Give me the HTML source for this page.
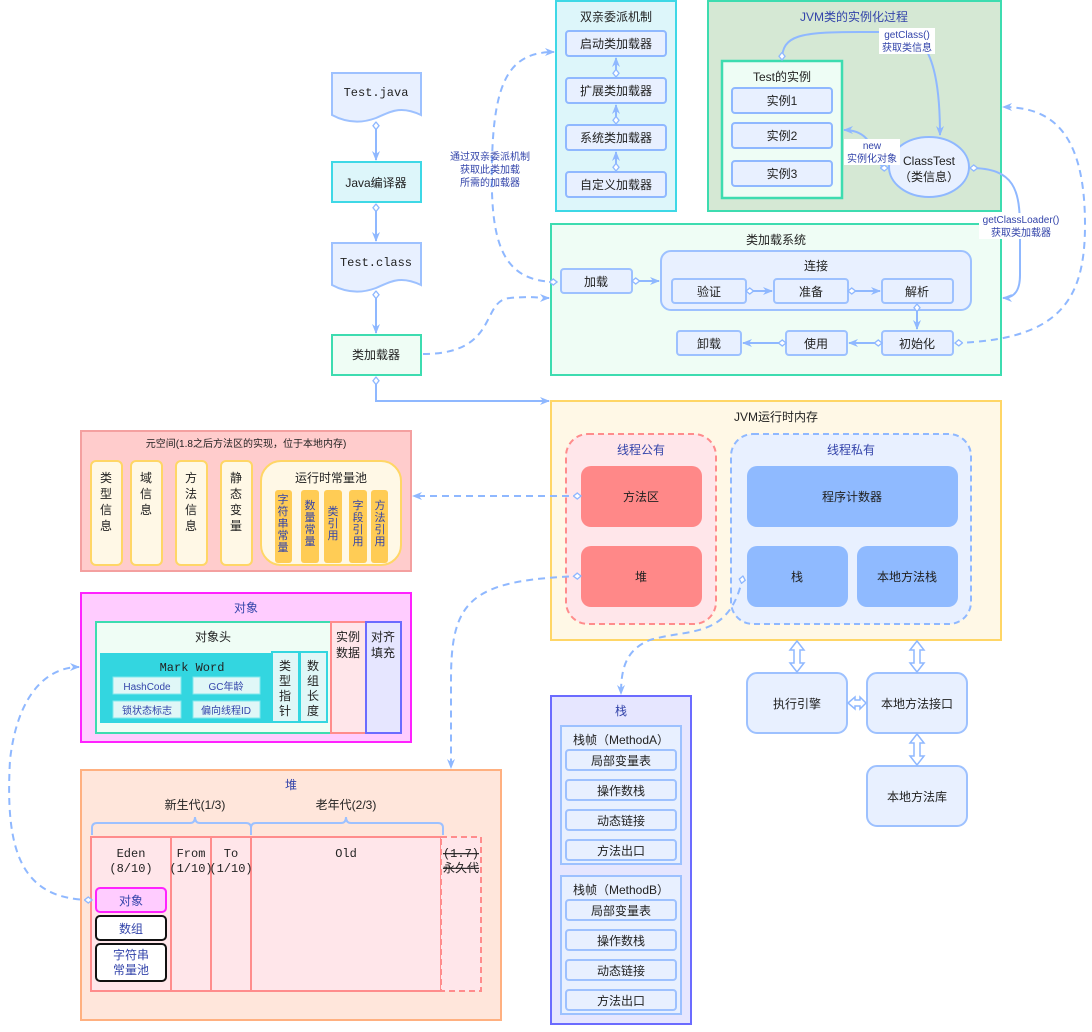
<!DOCTYPE html>
<html><head><meta charset="utf-8"><style>
html,body{margin:0;padding:0;background:#fff;}
svg text{font-family:"Liberation Sans","Noto Sans CJK SC",sans-serif;font-size:12px;fill:#222;}
.b{fill:#3344aa !important;}
.s{font-size:10px !important;}
.v{font-size:11px !important;}
.m{font-family:"Liberation Mono","Noto Sans CJK SC",monospace !important;}
</style></head><body>
<svg width="1092" height="1027" viewBox="0 0 1092 1027" xmlns="http://www.w3.org/2000/svg">
<defs>
<marker id="a" viewBox="0 0 10 10" refX="9" refY="5" markerWidth="10" markerHeight="10" markerUnits="userSpaceOnUse" orient="auto"><path d="M0,1 L10,5 L0,9 L3,5z" fill="#8fb8ff"/></marker>
<marker id="d" viewBox="0 0 12 12" refX="1" refY="6" markerWidth="9" markerHeight="9" markerUnits="userSpaceOnUse" orient="auto"><path d="M1,6 L6,2 L11,6 L6,10z" fill="#fff" stroke="#8fb8ff" stroke-width="1.8"/></marker>
</defs>
<g stroke-width="2">
<path d="M332,73 H421 V115 C400,105 390,112 376,118 C360,124 345,122 332,115Z" fill="#e8f0ff" stroke="#9dc1ff"/>
<rect x="332" y="162" width="89" height="40" fill="#ddf6fa" stroke="#3ed8e6"/>
<path d="M332,243 H421 V285 C400,275 390,282 376,288 C360,294 345,292 332,285Z" fill="#e8f0ff" stroke="#9dc1ff"/>
<rect x="332" y="335" width="89" height="40" fill="#effdf5" stroke="#3ddcb0"/>
<rect x="556" y="1" width="120" height="210" fill="#ddf6fa" stroke="#3ed8e6"/>
<g fill="#e8f0ff" stroke="#8fb8ff"><rect x="566" y="31" width="100" height="25" rx="3"/><rect x="566" y="78" width="100" height="25" rx="3"/><rect x="566" y="125" width="100" height="25" rx="3"/><rect x="566" y="172" width="100" height="25" rx="3"/></g>
<rect x="708" y="1" width="293" height="210" fill="#d5e8d4" stroke="#3ddcb0"/>
<rect x="722" y="61" width="120" height="137" fill="#eefdf5" stroke="#3ddcb0" stroke-width="2.5"/>
<g fill="#e8f0ff" stroke="#8fb8ff"><rect x="732" y="88" width="100" height="25" rx="3"/><rect x="732" y="123" width="100" height="25" rx="3"/><rect x="732" y="161" width="100" height="25" rx="3"/></g>
<ellipse cx="929" cy="167" rx="40" ry="30" fill="#e8f0ff" stroke="#8fb8ff"/>
<rect x="551" y="224" width="450" height="151" fill="#effdf5" stroke="#3ddcb0"/>
<g fill="#e8f0ff" stroke="#9dc1ff">
<rect x="561" y="269" width="71" height="24" rx="3"/>
<rect x="661" y="251" width="310" height="59" rx="10"/>
<rect x="672" y="279" width="74" height="24" rx="3"/><rect x="774" y="279" width="74" height="24" rx="3"/><rect x="882" y="279" width="71" height="24" rx="3"/>
<rect x="677" y="331" width="64" height="24" rx="3"/><rect x="786" y="331" width="61" height="24" rx="3"/><rect x="882" y="331" width="71" height="24" rx="3"/>
</g>
<rect x="551" y="401" width="450" height="239" fill="#fff8e6" stroke="#ffd666"/>
<rect x="566" y="434" width="150" height="190" rx="22" fill="#ffe6ea" stroke="#ff8c8c" stroke-dasharray="6 4"/>
<rect x="731" y="434" width="240" height="190" rx="22" fill="#e8f0ff" stroke="#8fb8ff" stroke-dasharray="6 4"/>
<g stroke="none"><rect x="581" y="466" width="121" height="61" rx="10" fill="#ff8888"/><rect x="581" y="546" width="121" height="61" rx="10" fill="#ff8888"/>
<rect x="747" y="466" width="211" height="61" rx="10" fill="#8fbaff"/><rect x="747" y="546" width="101" height="61" rx="10" fill="#8fbaff"/><rect x="857" y="546" width="101" height="61" rx="10" fill="#8fbaff"/></g>
<g fill="#e8f0ff" stroke="#9dc1ff"><rect x="747" y="673" width="100" height="60" rx="10"/><rect x="867" y="673" width="100" height="60" rx="10"/><rect x="867" y="766" width="100" height="60" rx="10"/></g>
<rect x="551" y="696" width="140" height="328" fill="#e6e6ff" stroke="#6b6bff"/>
<g fill="#e8f0ff" stroke="#9dc1ff"><rect x="561" y="726" width="120" height="138"/><rect x="561" y="876" width="120" height="138"/>
<rect x="566" y="750" width="110" height="20" rx="3"/><rect x="566" y="780" width="110" height="20" rx="3"/><rect x="566" y="810" width="110" height="20" rx="3"/><rect x="566" y="840" width="110" height="20" rx="3"/>
<rect x="566" y="900" width="110" height="20" rx="3"/><rect x="566" y="930" width="110" height="20" rx="3"/><rect x="566" y="960" width="110" height="20" rx="3"/><rect x="566" y="990" width="110" height="20" rx="3"/></g>
<rect x="81" y="431" width="330" height="140" fill="#ffcccc" stroke="#f4a0a0"/>
<g fill="#fff8e6" stroke="#ffd666"><rect x="91" y="461" width="31" height="104" rx="5"/><rect x="131" y="461" width="31" height="104" rx="5"/><rect x="176" y="461" width="31" height="104" rx="5"/><rect x="221" y="461" width="31" height="104" rx="5"/><rect x="261" y="461" width="140" height="104" rx="20"/></g>
<g fill="#ffcc55" stroke="none"><rect x="275" y="490" width="17" height="73" rx="3"/><rect x="301" y="490" width="18" height="73" rx="3"/><rect x="324" y="490" width="18" height="73" rx="3"/><rect x="349" y="490" width="18" height="73" rx="3"/><rect x="371" y="490" width="17" height="73" rx="3"/></g>
<rect x="81" y="593" width="330" height="149" fill="#ffccff" stroke="#ff22ff"/>
<rect x="96" y="622" width="235" height="111" fill="#effdf5" stroke="#3ddcb0"/>
<rect x="100" y="653" width="185" height="70" fill="#33d6e0" stroke="none"/>
<g fill="#e0f7f7" stroke="#80e8ee" stroke-width="1"><rect x="113" y="677" width="68" height="17"/><rect x="193" y="677" width="67" height="17"/><rect x="113" y="701" width="68" height="17"/><rect x="193" y="701" width="67" height="17"/></g>
<g fill="#e0f7f7" stroke="#33d6e0"><rect x="272" y="652" width="27" height="70"/><rect x="300" y="652" width="27" height="70"/></g>
<rect x="331" y="622" width="35" height="111" fill="#ffe6ea" stroke="#ff8c8c"/>
<rect x="366" y="622" width="35" height="111" fill="#e6e6ff" stroke="#6b6bff"/>
<rect x="81" y="770" width="420" height="250" fill="#ffe6db" stroke="#ffb080"/>
<g fill="#ffe6ea" stroke="#ff8c8c"><rect x="91" y="837" width="80" height="154"/><rect x="171" y="837" width="40" height="154"/><rect x="211" y="837" width="40" height="154"/><rect x="251" y="837" width="190" height="154"/></g>
<rect x="441" y="837" width="40" height="154" fill="#ffe6ea" stroke="#ff8c8c" stroke-dasharray="6 4"/>
<path d="M92,835 V828 Q92,823 97,823 H190 Q195,823 195,817 Q195,823 200,823 H246 Q251,823 251,828 V835 M251,828 Q251,823 256,823 H341 Q346,823 346,817 Q346,823 351,823 H438 Q443,823 443,828 V835" fill="none" stroke="#9dc1ff"/>
<rect x="96" y="888" width="70" height="24" rx="4" fill="#ffccff" stroke="#ff22ff"/>
<rect x="96" y="916" width="70" height="24" rx="4" fill="#fff" stroke="#111"/>
<rect x="96" y="944" width="70" height="37" rx="4" fill="#fff" stroke="#111"/>
</g>
<g fill="none" stroke="#8fb8ff" stroke-width="2">
<path d="M376,122 V160" marker-start="url(#d)" marker-end="url(#a)"/>
<path d="M376,204 V241" marker-start="url(#d)" marker-end="url(#a)"/>
<path d="M376,291 V333" marker-start="url(#d)" marker-end="url(#a)"/>
<path d="M376,377 V401 H549" marker-start="url(#d)" marker-end="url(#a)"/>
<path d="M616,77 V58" marker-start="url(#d)" marker-end="url(#a)"/>
<path d="M616,124 V105" marker-start="url(#d)" marker-end="url(#a)"/>
<path d="M616,171 V152" marker-start="url(#d)" marker-end="url(#a)"/>
<path d="M632,281 H659" marker-start="url(#d)" marker-end="url(#a)"/>
<path d="M746,291 H772" marker-start="url(#d)" marker-end="url(#a)"/>
<path d="M848,291 H880" marker-start="url(#d)" marker-end="url(#a)"/>
<path d="M917,304 V329" marker-start="url(#d)" marker-end="url(#a)"/>
<path d="M882,343 H849" marker-start="url(#d)" marker-end="url(#a)"/>
<path d="M786,343 H743" marker-start="url(#d)" marker-end="url(#a)"/>
<path d="M782,60 C782,35 800,32 860,32 H905 C935,40 940,90 940,135" marker-start="url(#d)" marker-end="url(#a)"/>
<path d="M888,168 C870,168 880,130 844,130" marker-start="url(#d)" marker-end="url(#a)"/>
<path d="M970,168 C1015,168 1020,190 1020,230 V275 C1020,290 1015,298 1003,298" marker-start="url(#d)" marker-end="url(#a)"/>
<g stroke-dasharray="7 5">
<path d="M557,282 C500,282 490,240 492,160 C494,80 510,52 554,52" marker-start="url(#d)" marker-end="url(#a)"/>
<path d="M423,354 C500,354 480,300 510,298 C530,296 540,298 549,298" marker-end="url(#a)"/>
<path d="M955,343 C1060,340 1085,300 1085,225 C1085,130 1050,107 1003,107" marker-start="url(#d)" marker-end="url(#a)"/>
<path d="M581,496 H413" marker-start="url(#d)" marker-end="url(#a)"/>
<path d="M581,576 C470,580 451,600 451,680 V768" marker-start="url(#d)" marker-end="url(#a)"/>
<path d="M743,576 C730,640 690,628 650,640 C625,650 621,670 621,694" marker-start="url(#d)" marker-end="url(#a)"/>
<path d="M92,900 C20,900 5,850 10,760 C18,690 50,667 79,667" marker-start="url(#d)" marker-end="url(#a)"/>
</g>
</g>
<g fill="#fff" stroke="#8fb8ff" stroke-width="1.5">
<path d="M797,641 L804,650 H800 V663 H804 L797,672 L790,663 H794 V650 H790Z"/>
<path d="M917,641 L924,650 H920 V663 H924 L917,672 L910,663 H914 V650 H910Z"/>
<path d="M917,734 L924,743 H920 V756 H924 L917,765 L910,756 H914 V743 H910Z"/>
<path d="M848,703 L855,697 V700 H860 V697 L866,703 L860,709 V706 H855 V709Z"/>
</g>
<g fill="#fff"><rect x="879" y="28" width="56" height="26"/><rect x="844" y="139" width="56" height="26"/><rect x="979" y="213" width="84" height="26"/></g>
<g text-anchor="middle">
<text x="376" y="96" class="m">Test.java</text>
<text x="376" y="187">Java编译器</text>
<text x="376" y="266" class="m">Test.class</text>
<text x="376" y="359">类加载器</text>
<text x="490" y="160" class="b s">通过双亲委派机制</text><text x="490" y="173" class="b s">获取此类加载</text><text x="490" y="186" class="b s">所需的加载器</text>
<text x="616" y="21">双亲委派机制</text>
<text x="616" y="48">启动类加载器</text><text x="616" y="95">扩展类加载器</text><text x="616" y="142">系统类加载器</text><text x="616" y="189">自定义加载器</text>
<text x="854" y="21" class="b">JVM类的实例化过程</text>
<text x="782" y="81">Test的实例</text>
<text x="782" y="105">实例1</text><text x="782" y="140">实例2</text><text x="782" y="178">实例3</text>
<text x="907" y="38" class="b s">getClass()</text><text x="907" y="51" class="b s">获取类信息</text>
<text x="872" y="149" class="b s">new</text><text x="872" y="162" class="b s">实例化对象</text>
<text x="929" y="165">ClassTest</text><text x="929" y="181">（类信息）</text>
<text x="1021" y="223" class="b s">getClassLoader()</text><text x="1021" y="236" class="b s">获取类加载器</text>
<text x="776" y="244">类加载系统</text>
<text x="596" y="286">加载</text><text x="816" y="270">连接</text>
<text x="709" y="296">验证</text><text x="811" y="296">准备</text><text x="917" y="296">解析</text>
<text x="709" y="348">卸载</text><text x="816" y="348">使用</text><text x="917" y="348">初始化</text>
<text x="776" y="421">JVM运行时内存</text>
<text x="641" y="454" class="b">线程公有</text><text x="851" y="454" class="b">线程私有</text>
<text x="641" y="501">方法区</text><text x="641" y="581">堆</text>
<text x="852" y="501">程序计数器</text><text x="797" y="581">栈</text><text x="907" y="581">本地方法栈</text>
<text x="797" y="708">执行引擎</text><text x="917" y="708">本地方法接口</text><text x="917" y="801">本地方法库</text>
<text x="621" y="715" class="b">栈</text>
<text x="621" y="744">栈帧（MethodA）</text>
<text x="621" y="765">局部变量表</text><text x="621" y="795">操作数栈</text><text x="621" y="825">动态链接</text><text x="621" y="855">方法出口</text>
<text x="621" y="894">栈帧（MethodB）</text>
<text x="621" y="915">局部变量表</text><text x="621" y="945">操作数栈</text><text x="621" y="975">动态链接</text><text x="621" y="1005">方法出口</text>
<text x="246" y="447" class="s">元空间(1.8之后方法区的实现，位于本地内存)</text>
<text x="331" y="482">运行时常量池</text>
<text x="246" y="612" class="b">对象</text>
<text x="213" y="641">对象头</text>
<text x="192" y="671" class="m">Mark Word</text>
<text x="147" y="690" class="b s">HashCode</text><text x="226" y="690" class="b s">GC年龄</text>
<text x="147" y="714" class="b s">锁状态标志</text><text x="226" y="714" class="b s">偏向线程ID</text>
<text x="348" y="641">实例</text><text x="348" y="657">数据</text>
<text x="383" y="641">对齐</text><text x="383" y="657">填充</text>
<text x="291" y="789" class="b">堆</text>
<text x="195" y="809">新生代(1/3)</text><text x="346" y="809">老年代(2/3)</text>
<text x="131" y="857" class="m">Eden</text><text x="131" y="872" class="m">(8/10)</text>
<text x="191" y="857" class="m">From</text><text x="191" y="872" class="m">(1/10)</text>
<text x="231" y="857" class="m">To</text><text x="231" y="872" class="m">(1/10)</text>
<text x="346" y="857" class="m">Old</text>
<text x="461" y="857" class="m" text-decoration="line-through">(1.7)</text><text x="461" y="872" text-decoration="line-through">永久代</text>
<text x="131" y="905" class="b">对象</text><text x="131" y="933" class="b">数组</text>
<text x="131" y="959" class="b">字符串</text><text x="131" y="974" class="b">常量池</text>
</g>
<g text-anchor="middle">
<text x="106" y="482">类</text><text x="106" y="498">型</text><text x="106" y="514">信</text><text x="106" y="530">息</text>
<text x="146" y="482">域</text><text x="146" y="498">信</text><text x="146" y="514">息</text>
<text x="191" y="482">方</text><text x="191" y="498">法</text><text x="191" y="514">信</text><text x="191" y="530">息</text>
<text x="236" y="482">静</text><text x="236" y="498">态</text><text x="236" y="514">变</text><text x="236" y="530">量</text>
<text x="283" y="503" class="b v">字</text><text x="283" y="515" class="b v">符</text><text x="283" y="527" class="b v">串</text><text x="283" y="539" class="b v">常</text><text x="283" y="551" class="b v">量</text>
<text x="310" y="509" class="b v">数</text><text x="310" y="521" class="b v">量</text><text x="310" y="533" class="b v">常</text><text x="310" y="545" class="b v">量</text>
<text x="333" y="515" class="b v">类</text><text x="333" y="527" class="b v">引</text><text x="333" y="539" class="b v">用</text>
<text x="358" y="509" class="b v">字</text><text x="358" y="521" class="b v">段</text><text x="358" y="533" class="b v">引</text><text x="358" y="545" class="b v">用</text>
<text x="380" y="509" class="b v">方</text><text x="380" y="521" class="b v">法</text><text x="380" y="533" class="b v">引</text><text x="380" y="545" class="b v">用</text>
<text x="285" y="670">类</text><text x="285" y="685">型</text><text x="285" y="700">指</text><text x="285" y="715">针</text>
<text x="313" y="670">数</text><text x="313" y="685">组</text><text x="313" y="700">长</text><text x="313" y="715">度</text>
</g>
</svg>
</body></html>
